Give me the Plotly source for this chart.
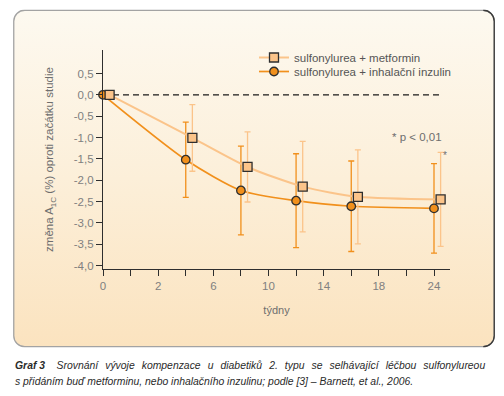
import base64
import plotly.graph_objects as go

# ---- data ----
week_categories = ["0", "1", "2", "4", "6", "8", "10", "12", "14", "16", "18", "21", "24"]
tick_labels = ["0", "", "2", "", "6", "", "10", "", "14", "", "18", "", "24"]
weeks = ["0", "4", "8", "12", "16", "24"]

metformin_name = "sulfonylurea + metformin"
metformin_mean = [0.0, -1.01, -1.69, -2.15, -2.39, -2.45]
metformin_err = [0.0, 0.78, 0.82, 1.06, 1.10, 1.10]

insulin_name = "sulfonylurea + inhalační inzulin"
insulin_mean = [0.0, -1.52, -2.24, -2.48, -2.61, -2.66]
insulin_err = [0.0, 0.88, 1.04, 1.10, 1.06, 1.05]

y_tickvals = [0.5, 0.0, -0.5, -1.0, -1.5, -2.0, -2.5, -3.0, -3.5, -4.0]
y_ticktext = ["0,5", "0,0", "-0,5", "-1,0", "-1,5", "-2,0", "-2,5", "-3,0", "-3,5", "-4,0"]

# ---- style / layout (page has an 8px body margin) ----
PAGE_OFF = 8
W, H = 504 - PAGE_OFF, 396 - PAGE_OFF
L, T = 103 - PAGE_OFF, 50 - PAGE_OFF
R, B = W - (450 - PAGE_OFF), H - (269 - PAGE_OFF)
PW, PH = W - L - R, H - T - B


def xp(rx):
    return (rx - PAGE_OFF - L) / PW


def yp(ry):
    return (H - B - (ry - PAGE_OFF)) / PH


LIGHT = "#fbc48a"
DARK = "#f1901c"
EDGE = "#2e2e2e"
FONT = "Liberation Sans, Arial, sans-serif"
x_range = [0, 12.58]
shift = 0.24

fig = go.Figure()

fig.add_trace(go.Scatter(
    x=weeks, y=metformin_mean, name=metformin_name, xaxis="x2", yaxis="y",
    mode="lines+markers", line=dict(color=LIGHT, width=2, shape="spline", smoothing=0.7),
    marker=dict(symbol="square", size=9, color=LIGHT, line=dict(color=EDGE, width=1.3)),
    error_y=dict(type="data", array=metformin_err, color=LIGHT, thickness=1.3, width=3),
    cliponaxis=False, legend="legend",
))
fig.add_trace(go.Scatter(
    x=weeks, y=insulin_mean, name=insulin_name, xaxis="x", yaxis="y",
    mode="lines+markers", line=dict(color=DARK, width=1.7, shape="spline", smoothing=0.7),
    marker=dict(symbol="circle", size=8.5, color=DARK, line=dict(color=EDGE, width=1.3)),
    error_y=dict(type="data", array=insulin_err, color=DARK, thickness=1.3, width=3),
    cliponaxis=False, legend="legend2",
))

# background panel as SVG image
svg = '''<svg xmlns="http://www.w3.org/2000/svg" width="482" height="338" viewBox="0 0 482 338" preserveAspectRatio="none">
<defs><linearGradient id="g" x1="0" y1="0" x2="0" y2="1">
<stop offset="0" stop-color="#fdf9f0"/><stop offset="0.5" stop-color="#fcefd9"/><stop offset="1" stop-color="#fbe3bf"/></linearGradient></defs>
<rect x="0.75" y="0.75" width="480.5" height="336.5" rx="11" ry="11" fill="url(#g)" stroke="#a3a3a3" stroke-width="1.3"/>
<path d="M 470.25 0.75 A 11 11 0 0 1 481.25 11.75 L 481.25 326.25 A 11 11 0 0 1 470.25 337.25" fill="none" stroke="#3a3a3a" stroke-width="1.3"/>
</svg>'''
src = "data:image/svg+xml;base64," + base64.b64encode(svg.encode("utf-8")).decode()
fig.add_layout_image(dict(
    source=src, xref="paper", yref="paper",
    x=xp(13), y=yp(9.5), sizex=482 / PW, sizey=338 / PH,
    sizing="stretch", layer="below", xanchor="left", yanchor="top",
))

# zero reference line
fig.add_shape(type="line", xref="x", yref="y", x0=0, x1=12.3, y0=0, y1=0,
              line=dict(color="#1a1a1a", width=1.3, dash="6px,4px"), layer="below")

axis_common = dict(type="category", categoryarray=week_categories, categoryorder="array")
legend_common = dict(xanchor="left", yanchor="top", bgcolor="rgba(0,0,0,0)",
                     font=dict(size=11.5, color="#555555"), itemwidth=30,
                     xref="paper", yref="paper")
fig.update_layout(
    width=W, height=H,
    margin=dict(l=L, r=R, t=T, b=B, autoexpand=False),
    paper_bgcolor="white", plot_bgcolor="rgba(0,0,0,0)",
    font=dict(family=FONT, color="#6e6e6e", size=11.5),
    xaxis=dict(
        **axis_common, range=x_range, automargin=False,
        tickmode="array", tickvals=week_categories, ticktext=tick_labels,
        ticks="outside", ticklen=6, tickwidth=1.3, tickcolor=EDGE,
        showline=True, linecolor=EDGE, linewidth=1.3, showgrid=False, zeroline=False,
        tickfont=dict(size=11.5, color="#808080"),
        title=dict(text="týdny", font=dict(size=11, color="#6e6e6e"), standoff=15),
    ),
    xaxis2=dict(
        **axis_common, range=[x_range[0] - shift, x_range[1] - shift],
        overlaying="x", anchor="y", visible=False, automargin=False,
    ),
    yaxis=dict(
        range=[-4.08, 1.05], automargin=False,
        tickmode="array", tickvals=y_tickvals, ticktext=y_ticktext,
        ticks="outside", ticklen=6, tickwidth=1.3, tickcolor=EDGE,
        showline=True, linecolor=EDGE, linewidth=1.3, showgrid=False, zeroline=False,
        tickfont=dict(size=11.5, color="#808080"),
        title=dict(text="změna A<sub>1C</sub> (%) oproti začátku studie",
                   font=dict(size=11.5, color="#6e6e6e"), standoff=17),
    ),
    legend=dict(x=xp(254), y=yp(43), **legend_common),
    legend2=dict(x=xp(254), y=yp(57), **legend_common),
    showlegend=True,
)

fig.add_annotation(text="* p < 0,01", xref="paper", yref="paper",
                   x=xp(444), y=yp(137), xanchor="right", yanchor="middle",
                   showarrow=False, font=dict(size=11.5, color="#6e6e6e"))
fig.add_annotation(text="*", xref="paper", yref="paper",
                   x=xp(441), y=yp(155), xanchor="left", yanchor="middle",
                   showarrow=False, font=dict(size=10, color="#6e6e6e"))

NB = "\u00a0"
TH = "\u2009"
caption1 = ("<b>Graf 3</b>" + NB + " " + NB + " "
            + (" " + TH + TH).join("Srovnání vývoje kompenzace u diabetiků 2. typu se selhávající léčbou sulfonylureou".split(" ")))
caption2 = "s přidáním buď metforminu, nebo inhalačního inzulinu; podle [3] – Barnett, et al., 2006."
fig.add_annotation(
    text=caption1, xref="paper", yref="paper", x=xp(13), y=yp(365),
    xanchor="left", yanchor="middle", showarrow=False, align="left",
    font=dict(size=10.4, color="#2a2a2a", family=FONT, style="italic"))
fig.add_annotation(
    text=caption2, xref="paper", yref="paper", x=xp(13), y=yp(381),
    xanchor="left", yanchor="middle", showarrow=False, align="left",
    font=dict(size=10.4, color="#2a2a2a", family=FONT, style="italic"))

fig.write_html("out.html")
